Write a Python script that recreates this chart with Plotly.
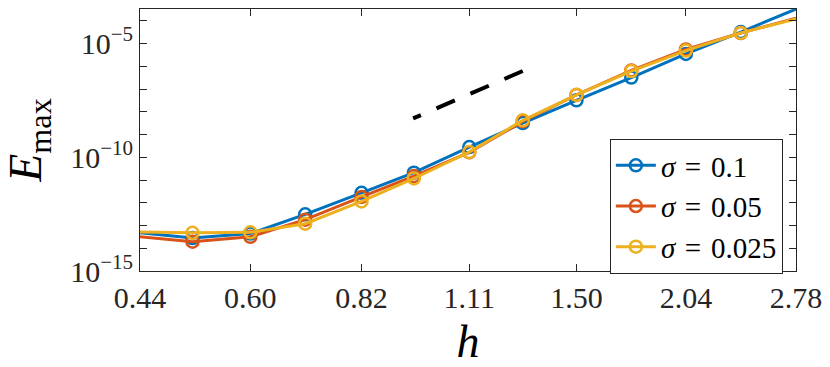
import plotly.graph_objects as go

# grid spacing h (every other one is labelled on the axis)
h = [0.44, 0.51, 0.60, 0.70, 0.82, 0.95, 1.11, 1.29, 1.50, 1.75, 2.04, 2.38, 2.78]
h_ticks = [0.44, 0.60, 0.82, 1.11, 1.50, 2.04, 2.78]
h_labels = ["0.44", "0.60", "0.82", "1.11", "1.50", "2.04", "2.78"]

# max error for each sigma
err_s100 = [4.8e-14, 2.8e-14, 4.4e-14, 3.1e-13, 2.75e-12, 2.1e-11, 2.8e-10,
            3.2e-9, 3.2e-8, 3.2e-7, 3.5e-6, 3.2e-5, 3.3e-4]
err_s050 = [3.2e-14, 1.95e-14, 3.2e-14, 1.8e-13, 1.8e-12, 1.5e-11, 1.65e-10,
            3.8e-9, 5.5e-8, 6.6e-7, 5.5e-6, 2.9e-5, 1.3e-4]
err_s025 = [5.2e-14, 4.8e-14, 5.0e-14, 1.2e-13, 1.15e-12, 1.17e-11, 1.7e-10,
            4.2e-9, 5.6e-8, 6.2e-7, 4.9e-6, 2.95e-5, 1.2e-4]

# reference slope line (drawn right to left so the dash pattern ends in a dot)
ref_h = [1.29, 0.948]
ref_err = [6.2e-7, 5.1e-9]

y_ticks = [1e-15, 1e-10, 1e-5]
y_labels = ["10<sup>\u221215</sup>", "10<sup>\u221210</sup>", "10<sup>\u22125</sup>"]
y_minor = [10.0 ** k for k in range(-15, -3)]

FONT = "'Liberation Serif', 'Times New Roman', serif"
AXIS = "#262626"

fig = go.Figure()

fig.add_trace(
    go.Scatter(
        x=ref_h, y=ref_err, mode="lines", showlegend=False,
        line=dict(color="black", width=4, dash="20px,17px"),
    )
)

for name, vals, color in [
    ("<i>\u03c3</i>\u2004=\u20040.1", err_s100, "#0072BD"),
    ("<i>\u03c3</i>\u2004=\u20040.05", err_s050, "#D95319"),
    ("<i>\u03c3</i>\u2004=\u20040.025", err_s025, "#EDB120"),
]:
    fig.add_trace(
        go.Scatter(
            x=h, y=vals, name=name, mode="lines+markers",
            line=dict(color=color, width=3),
            marker=dict(symbol="circle-open", size=12, color=color,
                        line=dict(width=2.5, color=color)),
            cliponaxis=False,
        )
    )

fig.update_layout(
    width=830, height=367,
    margin=dict(l=140, r=34, t=9, b=96, autoexpand=False),
    paper_bgcolor="white", plot_bgcolor="white",
    font=dict(family=FONT, size=30, color=AXIS),
    legend=dict(
        x=0.98, y=0.504, xanchor="right", yanchor="top",
        bgcolor="white", bordercolor=AXIS, borderwidth=1,
        font=dict(family=FONT, size=29, color="black"),
        tracegroupgap=0, itemwidth=40,
    ),
)

fig.update_xaxes(
    type="log", range=[-0.3565, 0.4440], automargin=False,
    tickvals=h_ticks, ticktext=h_labels,
    ticks="inside", ticklen=7, tickcolor=AXIS,
    showline=True, linecolor=AXIS, linewidth=1, mirror="ticks",
    showgrid=False, zeroline=False,
    title=dict(text="<i>h</i>", font=dict(family=FONT, size=46, color="black"),
               standoff=11),
)
fig.update_yaxes(
    type="log", range=[-15, -3.48], automargin=False,
    tickvals=y_ticks, ticktext=y_labels,
    ticks="inside", ticklen=7, tickcolor=AXIS,
    minor=dict(tickvals=y_minor, ticks="inside", ticklen=7, tickcolor=AXIS),
    showline=True, linecolor=AXIS, linewidth=1, mirror="ticks",
    showgrid=False, zeroline=False,
    title=dict(text="<i>E</i><sub>max</sub>",
               font=dict(family=FONT, size=46, color="black"), standoff=19),
)

# the page's default body margin would shift the figure by 8px
fig.write_html(
    "out.html",
    config={"displayModeBar": False},
    post_script="document.body.style.margin='0';",
)
